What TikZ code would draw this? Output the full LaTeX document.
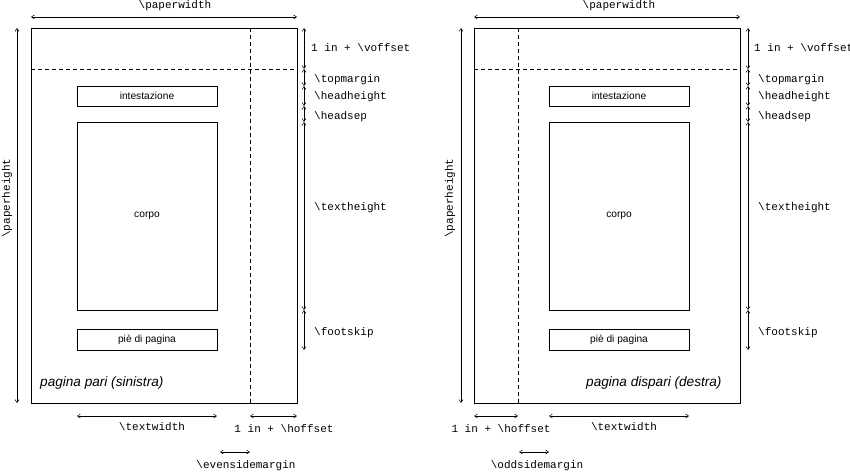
\documentclass[tikz,border=0pt]{standalone}
\usepackage{fontspec}
\setmainfont{Liberation Sans}
\setsansfont{Liberation Sans}
\setmonofont{Liberation Mono}
\usetikzlibrary{arrows.meta}
\begin{document}
\begin{tikzpicture}[x=1pt,y=-1pt,
  box/.style={draw, line width=0.7pt, inner sep=0pt, font=\fontsize{10.2}{12}\selectfont\sffamily},
  pagebox/.style={draw, line width=0.7pt},
  guide/.style={line width=0.6pt, dash pattern=on 4pt off 3pt},
  dim/.style={{Straight Barb[length=3pt,width=4pt]}-{Straight Barb[length=3pt,width=4pt]}, line width=0.5pt},
  lab/.style={font=\fontsize{11}{13}\selectfont\ttfamily, inner sep=0pt},
  pagelab/.style={font=\fontsize{13.6}{15}\selectfont\sffamily\itshape, inner sep=0pt, anchor=west}]
\useasboundingbox (0,0) rectangle (850,473);

% ================= left page (even) =================
\draw[pagebox] (31,28) rectangle (297,403);
\draw[guide] (31,69) -- (297,69);
\draw[guide] (250,28) -- (250,403);
\node[box, minimum width=140pt, minimum height=20pt] (Lhead) at (147,96) {intestazione};
\node[box, minimum width=140pt, minimum height=188pt] (Lbody) at (147,216) {corpo};
\node[box, minimum width=140pt, minimum height=21pt] (Lfoot) at (147,339.5) {piè di pagina};
\node[pagelab] (Lname) at (40,383) {pagina pari (sinistra)};

% paperwidth
\coordinate (Lpw1) at (31,17); \coordinate (Lpw2) at (297,17);
\draw[dim] (Lpw1) -- (Lpw2);
\node[lab] (Lpwl) at (175,6) {\textbackslash paperwidth};
% paperheight
\coordinate (Lph1) at (17,28); \coordinate (Lph2) at (17,403);
\draw[dim] (Lph1) -- (Lph2);
\node[lab, rotate=90] (Lphl) at (7,198) {\textbackslash paperheight};
% vertical dims right side
\coordinate (Lv0) at (304,28);
\coordinate (Lv1) at (304,69);
\coordinate (Lv2) at (304,86);
\coordinate (Lv3) at (304,106);
\coordinate (Lv4) at (304,122);
\coordinate (Lv5) at (304,310);
\coordinate (Lv6) at (304,350);
\draw[dim] (Lv0) -- (Lv1);
\draw[dim] (Lv1) -- (Lv2);
\draw[dim] (Lv2) -- (Lv3);
\draw[dim] (Lv3) -- (Lv4);
\draw[dim] (Lv4) -- (Lv5);
\draw[dim] (Lv5) -- (Lv6);
\node[lab, anchor=west] (Lvoff) at (311,48) {1 in + \textbackslash voffset};
\node[lab, anchor=west] (Ltop) at (314,80) {\textbackslash topmargin};
\node[lab, anchor=west] (Lhh) at (314,97) {\textbackslash headheight};
\node[lab, anchor=west] (Lhs) at (314,117) {\textbackslash headsep};
\node[lab, anchor=west] (Lth) at (314,208) {\textbackslash textheight};
\node[lab, anchor=west] (Lfs) at (314,333) {\textbackslash footskip};
% bottom dims
\coordinate (Ltw1) at (77,416); \coordinate (Ltw2) at (217,416);
\draw[dim] (Ltw1) -- (Ltw2);
\node[lab] (Ltwl) at (152,427) {\textbackslash textwidth};
\coordinate (Lho1) at (250,416); \coordinate (Lho2) at (297,416);
\draw[dim] (Lho1) -- (Lho2);
\node[lab] (Lhol) at (284,429) {1 in + \textbackslash hoffset};
\coordinate (Lesm1) at (220,452); \coordinate (Lesm2) at (250,452);
\draw[dim] (Lesm1) -- (Lesm2);
\node[lab] (Lesml) at (246,466) {\textbackslash evensidemargin};

% ================= right page (odd) =================
\draw[pagebox] (474,28) rectangle (740,403);
\draw[guide] (474,69) -- (740,69);
\draw[guide] (518,28) -- (518,403);
\node[box, minimum width=140pt, minimum height=20pt] (Rhead) at (619,96) {intestazione};
\node[box, minimum width=140pt, minimum height=188pt] (Rbody) at (619,216) {corpo};
\node[box, minimum width=140pt, minimum height=21pt] (Rfoot) at (619,339.5) {piè di pagina};
\node[pagelab] (Rname) at (586,383) {pagina dispari (destra)};

\coordinate (Rpw1) at (474,17); \coordinate (Rpw2) at (740,17);
\draw[dim] (Rpw1) -- (Rpw2);
\node[lab] (Rpwl) at (619,6) {\textbackslash paperwidth};
\coordinate (Rph1) at (461,28); \coordinate (Rph2) at (461,403);
\draw[dim] (Rph1) -- (Rph2);
\node[lab, rotate=90] (Rphl) at (450,198) {\textbackslash paperheight};
\coordinate (Rv0) at (748,28);
\coordinate (Rv1) at (748,69);
\coordinate (Rv2) at (748,86);
\coordinate (Rv3) at (748,106);
\coordinate (Rv4) at (748,122);
\coordinate (Rv5) at (748,310);
\coordinate (Rv6) at (748,350);
\draw[dim] (Rv0) -- (Rv1);
\draw[dim] (Rv1) -- (Rv2);
\draw[dim] (Rv2) -- (Rv3);
\draw[dim] (Rv3) -- (Rv4);
\draw[dim] (Rv4) -- (Rv5);
\draw[dim] (Rv5) -- (Rv6);
\node[lab, anchor=west] (Rvoff) at (754,48) {1 in + \textbackslash voffset};
\node[lab, anchor=west] (Rtop) at (758,80) {\textbackslash topmargin};
\node[lab, anchor=west] (Rhh) at (758,97) {\textbackslash headheight};
\node[lab, anchor=west] (Rhs) at (758,117) {\textbackslash headsep};
\node[lab, anchor=west] (Rth) at (758,208) {\textbackslash textheight};
\node[lab, anchor=west] (Rfs) at (758,333) {\textbackslash footskip};
\coordinate (Rho1) at (474,416); \coordinate (Rho2) at (518,416);
\draw[dim] (Rho1) -- (Rho2);
\node[lab] (Rhol) at (501,429) {1 in + \textbackslash hoffset};
\coordinate (Rtw1) at (549,416); \coordinate (Rtw2) at (689,416);
\draw[dim] (Rtw1) -- (Rtw2);
\node[lab] (Rtwl) at (624,427) {\textbackslash textwidth};
\coordinate (Rosm1) at (519,452); \coordinate (Rosm2) at (549,452);
\draw[dim] (Rosm1) -- (Rosm2);
\node[lab] (Rosml) at (537,466) {\textbackslash oddsidemargin};
\end{tikzpicture}
\end{document}
